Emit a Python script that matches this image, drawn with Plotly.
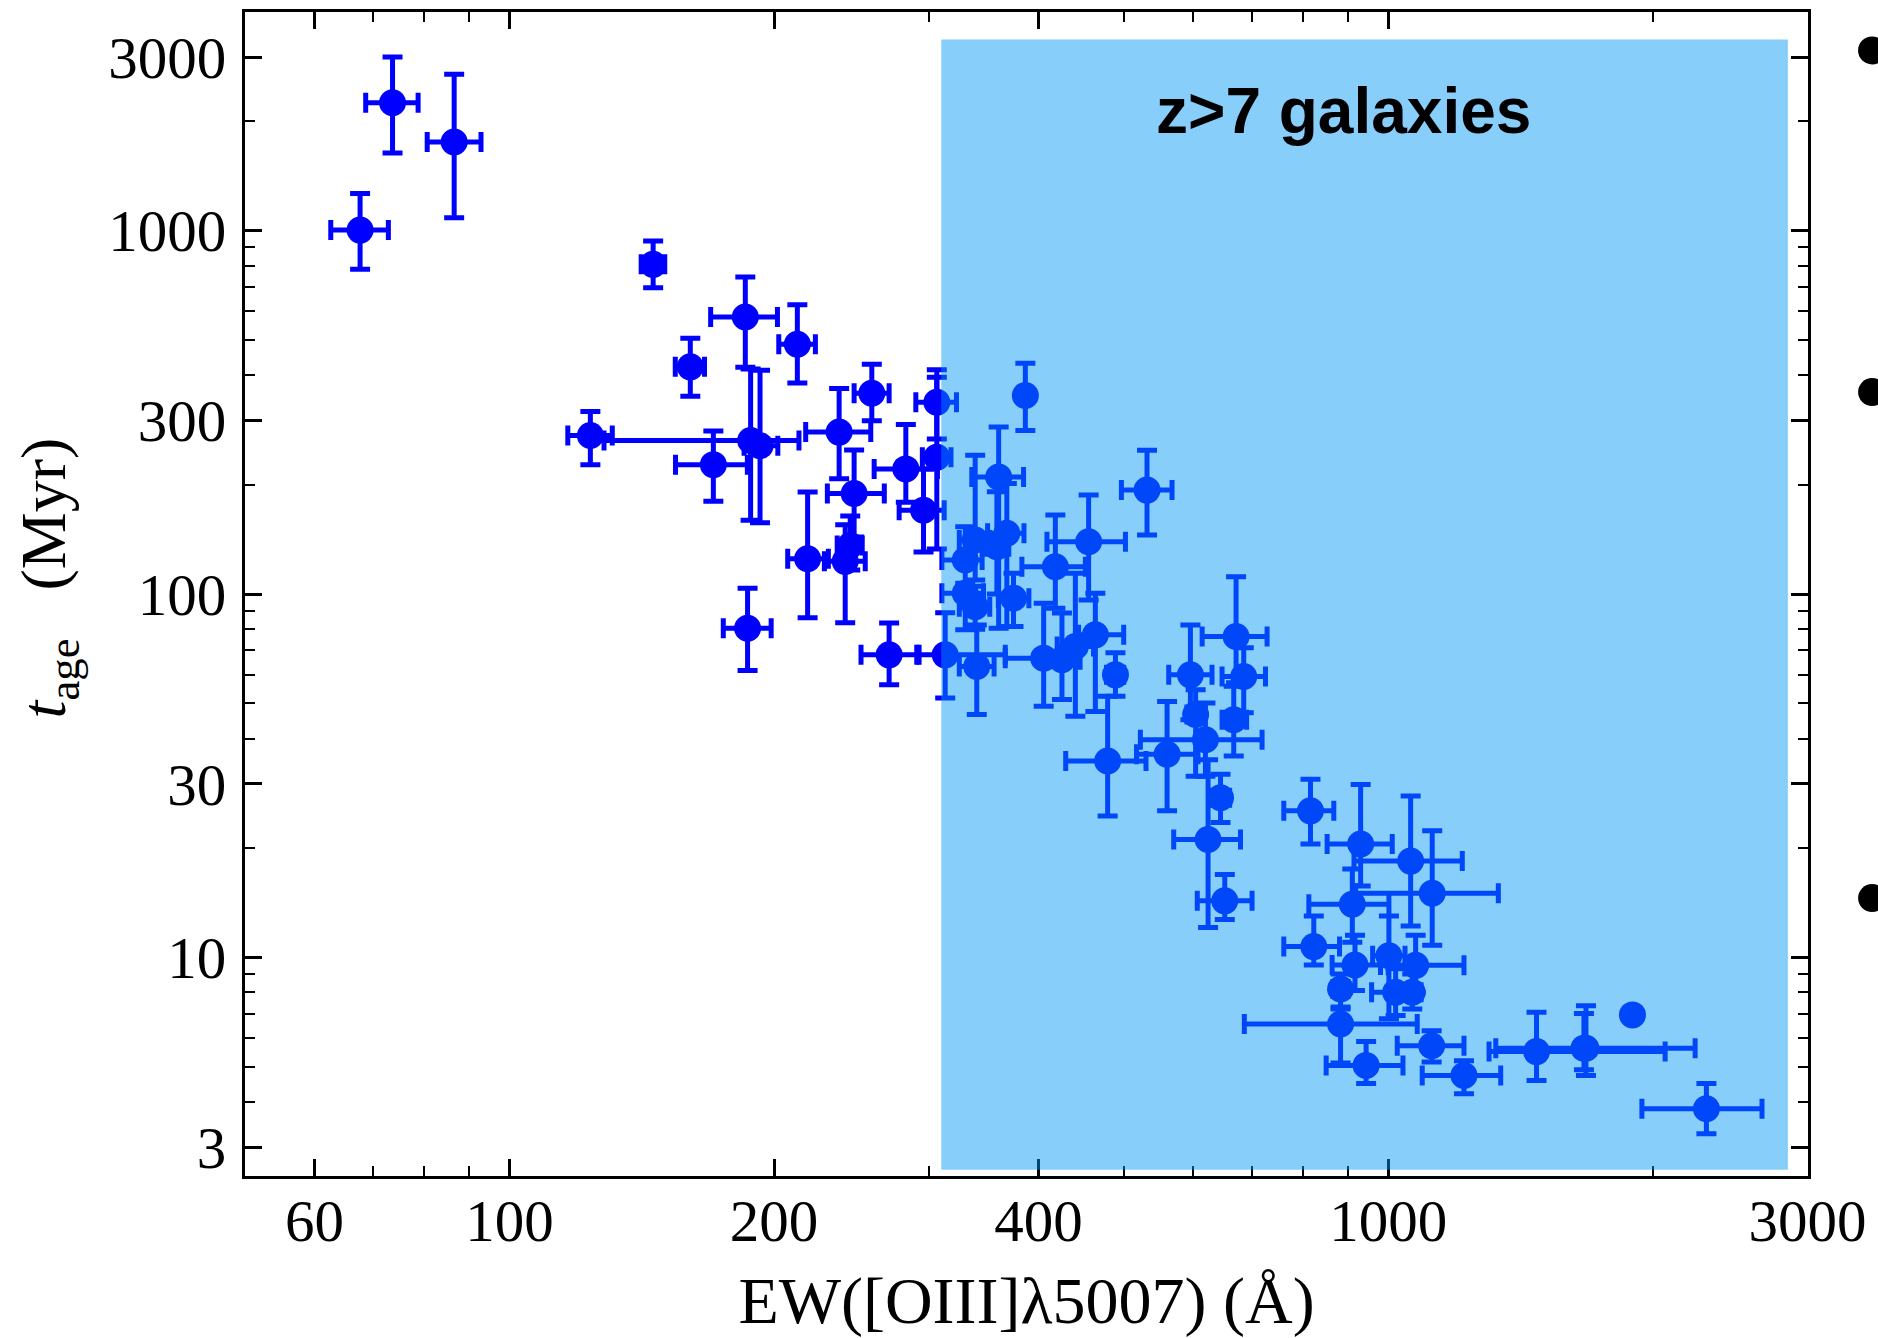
import math
import plotly.graph_objects as go

# ---- data ----
ew = [67.6, 73.6, 86.5, 145.7, 160.6, 185.5, 212.6, 123.6, 170.6, 188.1,
      192.8, 237.2, 258.4, 282.5, 306.4, 306.4, 246.7, 295.9, 244.2, 241.0,
      218.4, 186.6, 270.4, 313.2, 386.4, 360.3, 531.5, 456.1, 368.1, 338.8,
      330.1, 358.6, 418.0, 330.1, 338.8, 374.6, 340.2, 405.4, 425.3, 440.5,
      464.2, 489.3, 479.4, 560.2, 595.5, 603.7, 619.4, 667.1, 671.2, 684.8,
      644.4, 623.7, 651.6, 815.7, 930.3, 1060.5, 1122.2, 910.2, 822.8, 916.6,
      1001.8, 1074.5, 882.6, 1019.6, 1065.0, 882.6, 943.7, 1120.5, 1219.6, 1474.9,
      1678.9, 1896.5, 2302.0, 1670.0]
ew_lo = [62.6, 68.6, 80.6, 141.2, 154.4, 169.4, 202.5, 116.5, 154.5, 128.1,
         184.9, 217.3, 246.7, 260.0, 290.0, 295.0, 230.0, 277.6, 236.0, 228.2,
         207.3, 175.1, 251.2, 290.7, 380.0, 335.8, 497.0, 408.9, 350.0, 325.0,
         310.5, 348.0, 382.9, 310.5, 325.0, 360.0, 325.0, 366.6, 405.0, 420.0,
         444.3, 478.0, 429.5, 517.1, 562.6, 590.0, 522.3, 647.0, 614.1, 647.0,
         630.0, 570.0, 606.3, 760.6, 852.1, 914.2, 918.3, 812.2, 760.6, 863.3,
         960.0, 1000.0, 865.0, 957.4, 1040.0, 685.9, 849.9, 1023.9, 1093.2, 1302.3,
         1325.6, 1880.0, 1944.0, 1640.0]
ew_hi = [72.8, 78.7, 92.8, 150.2, 166.7, 201.8, 222.9, 130.9, 186.5, 213.5,
         202.0, 257.7, 270.4, 306.9, 322.6, 318.0, 267.0, 312.4, 252.0, 254.0,
         230.6, 198.5, 292.5, 366.6, 393.0, 384.6, 567.5, 502.3, 385.0, 352.0,
         345.0, 370.0, 452.2, 346.3, 352.0, 390.0, 356.0, 444.3, 446.0, 462.0,
         500.0, 500.0, 530.1, 607.4, 630.2, 617.0, 718.5, 690.0, 728.0, 725.0,
         660.0, 679.0, 699.9, 867.1, 1010.6, 1214.2, 1334.5, 1001.8, 880.2, 980.0,
         1045.0, 1219.6, 900.0, 1050.0, 1090.0, 1079.0, 1039.4, 1219.6, 1342.8, 2066.0,
         2235.0, 1913.0, 2663.0, 1700.0]
tage = [1004, 2251, 1755, 808, 422, 579, 487, 273, 227, 264.5,
        256, 279, 357, 221, 337, 238, 189, 170, 136, 123,
        125, 80.5, 68, 68, 352, 210, 193.2, 139.3, 146.9, 140.8,
        124.1, 135, 118.9, 100.5, 92.3, 97.4, 63.2, 66.6, 65.9, 71.7,
        77.2, 59.9, 34.7, 36.2, 59.9, 46.6, 39.7, 45.1, 76.4, 59.3,
        27.5, 21.1, 14.3, 25.3, 20.5, 18.4, 15.0, 14.0, 10.7, 9.52,
        10.1, 9.5, 8.18, 8.01, 8.01, 6.55, 5.04, 5.71, 4.73, 5.50,
        5.62, 6.94, 3.83, 5.62]
tage_lo = [783, 1637, 1086, 697, 350, 421, 381, 227, 180, 159.5,
           157, 207.5, 300, 179, 267, 133, 143.5, 130.5, 116.5, 83.4,
           86, 61.6, 56.3, 51.7, 282, 80.5, 145.3, 96.3, 81.4, 109.3,
           100.5, 100, 91.4, 79.7, 80, 81.4, 46.6, 49.1, 51.2, 46.1,
           47.5, 52.3, 24.5, 25.3, 45.1, 31.5, 31.5, 35.8, 57, 47.1,
           23.5, 12.08, 12.7, 20.5, 15.7, 12.2, 10.8, 11.0, 9.52, 8.1,
           6.77, 8.0, 7.3, 6.91, 7.2, 5.12, 4.49, 5.15, 4.21, 4.58,
           4.73, 6.8, 3.27, 4.9]
tage_hi = [1266, 3006, 2694, 937, 506, 746, 625, 318, 281, 416,
           413, 368, 429, 293, 414, 395, 249, 221, 164, 155,
           191, 103.7, 83.2, 88.8, 432, 288, 248.8, 187.2, 201.5, 241,
           153.1, 191.1, 164.9, 107.1, 105, 114.1, 82.2, 94.3, 88.6, 114.1,
           100.5, 68.9, 52.3, 50.6, 82.2, 54.5, 50.1, 55.7, 111.6, 71.1,
           31.9, 35.0, 16.9, 30.9, 29.9, 27.8, 22.3, 17.5, 13.0, 11.5,
           13.0, 11.5, 8.99, 9.3, 9.0, 7.21, 5.86, 6.28, 5.19, 7.06,
           7.36, 7.1, 4.49, 7.0]

x_ticks = [60, 100, 200, 400, 1000, 3000]
x_minor = [70, 80, 90, 300, 500, 600, 700, 800, 900, 2000]
y_ticks = [3, 10, 30, 100, 300, 1000, 3000]
y_minor = [4, 5, 6, 7, 8, 9, 20, 40, 50, 60, 70, 80, 90, 200, 400, 500, 600,
           700, 800, 900, 2000]
x_range = [50, 3000]
y_range = [2.5, 4000]
zone_x = [310, 2850]
zone_y = [2.6, 3360]
zone_label = "z&gt;7 galaxies"

n = len(ew)
assert all(len(a) == n for a in [ew_lo, ew_hi, tage, tage_lo, tage_hi])

ex_plus = [h - v for h, v in zip(ew_hi, ew)]
ex_minus = [v - l for v, l in zip(ew, ew_lo)]
ey_plus = [h - v for h, v in zip(tage_hi, tage)]
ey_minus = [v - l for v, l in zip(tage, tage_lo)]

BLUE = "#0000ff"
fig = go.Figure()
fig.add_trace(go.Scatter(
    x=ew, y=tage, mode="markers",
    marker=dict(size=27, color=BLUE, line=dict(width=0)),
    error_x=dict(type="data", symmetric=False, array=ex_plus, arrayminus=ex_minus,
                 color=BLUE, thickness=5, width=10),
    error_y=dict(type="data", symmetric=False, array=ey_plus, arrayminus=ey_minus,
                 color=BLUE, thickness=5, width=10),
    hoverinfo="skip",
))

# shaded z>7 zone drawn over the points (semi-transparent)
fig.add_shape(type="rect", xref="x", yref="y",
              x0=zone_x[0], x1=zone_x[1], y0=zone_y[0], y1=zone_y[1],
              fillcolor="rgba(0,151,245,0.47)", line=dict(width=0), layer="above")

fig.add_annotation(xref="paper", yref="paper", x=0.7025, y=0.915,
                   text="<b>" + zone_label + "</b>", showarrow=False,
                   font=dict(family="Liberation Sans, Arial, sans-serif", size=64, color="black"),
                   xanchor="center", yanchor="middle")

# bullet dots of the neighbouring slide text (cut at the right edge)
for yb in [0.967, 0.6735, 0.2388]:
    fig.add_shape(type="circle", xref="paper", yref="paper",
                  xsizemode="pixel", ysizemode="pixel",
                  xanchor=1.041, yanchor=yb, x0=-14, x1=14, y0=-14, y1=14,
                  fillcolor="black", line=dict(width=0), layer="above")

serif = "Liberation Serif, Times New Roman, serif"
axis_common = dict(
    type="log", showgrid=False, zeroline=False, automargin=False,
    showline=True, linecolor="black", linewidth=3, mirror="ticks",
    ticks="inside", ticklen=17, tickwidth=2.5, tickcolor="black",
    tickfont=dict(family=serif, size=59, color="black"),
)
fig.update_xaxes(
    **axis_common,
    range=[math.log10(x_range[0]), math.log10(x_range[1]) + 0.0006],
    tickmode="array", tickvals=x_ticks, ticktext=[str(v) for v in x_ticks],
    minor=dict(tickmode="array", tickvals=x_minor, ticks="inside", ticklen=10,
               tickwidth=2, tickcolor="black", showgrid=False),
    ticklabelstandoff=-9,
    title=dict(text="EW([OIII]λ5007) (Å)", font=dict(family=serif, size=66, color="black"),
               standoff=54),
)
fig.update_yaxes(
    **axis_common,
    range=[math.log10(y_range[0]), math.log10(y_range[1])],
    tickmode="array", tickvals=y_ticks, ticktext=[str(v) for v in y_ticks],
    minor=dict(tickmode="array", tickvals=y_minor, ticks="inside", ticklen=10,
               tickwidth=2, tickcolor="black", showgrid=False),
    ticklabelstandoff=4,
    title=dict(text="&nbsp;&nbsp;<i>t</i><sub>age</sub>&nbsp;&nbsp;&nbsp;(Myr)",
               font=dict(family=serif, size=64, color="black"),
               standoff=22),
)
fig.update_layout(
    width=1878, height=1338,
    margin=dict(l=245, r=70, t=12, b=162, pad=0),
    plot_bgcolor="white", paper_bgcolor="white",
    showlegend=False,
)
fig.write_html("out.html")
